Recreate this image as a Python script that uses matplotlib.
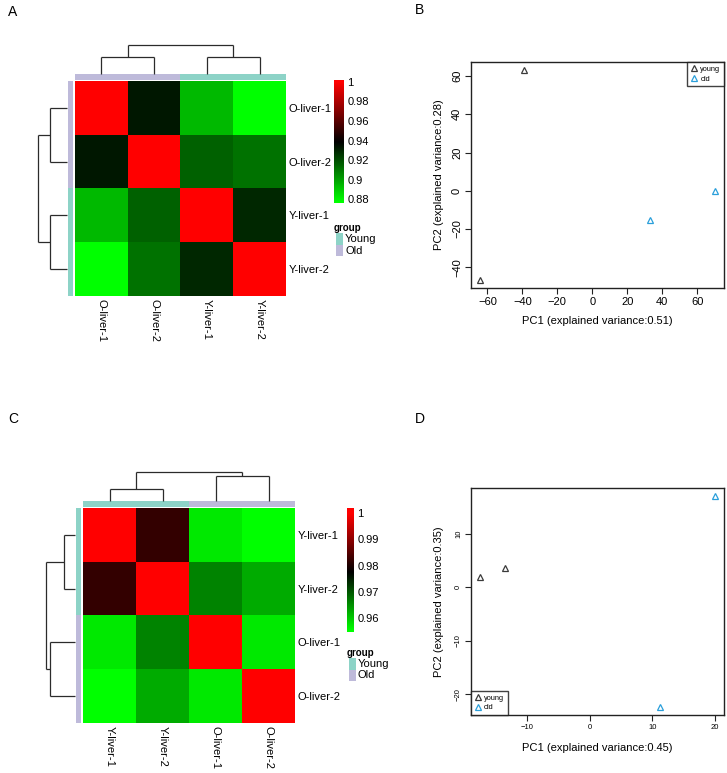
import numpy as np
import matplotlib
matplotlib.use("Agg")
import matplotlib.pyplot as plt
from matplotlib.colors import LinearSegmentedColormap, Normalize
from matplotlib.patches import Rectangle

plt.rcParams['font.family'] = ['Liberation Sans', 'DejaVu Sans']

# ---------------- data ----------------
# Panel A heatmap (correlation), order of rows/cols
labels_A = ["O-liver-1", "O-liver-2", "Y-liver-1", "Y-liver-2"]
groups_A = ["Old", "Old", "Young", "Young"]
corr_A = [[1.000, 0.933, 0.894, 0.877],
          [0.933, 1.000, 0.915, 0.911],
          [0.894, 0.915, 1.000, 0.929],
          [0.877, 0.911, 0.929, 1.000]]
cbar_range_A = [0.876, 1.002]
cbar_ticks_A = [0.88, 0.90, 0.92, 0.94, 0.96, 0.98, 1.0]
cbar_ticklabels_A = ["0.88", "0.9", "0.92", "0.94", "0.96", "0.98", "1"]
# dendrogram merges: [left, right, height]; ids >= 4 refer to earlier merges
dendro_A = [[0, 1, 0.56], [2, 3, 0.58], [4, 5, 1.0]]

# Panel C heatmap
labels_C = ["Y-liver-1", "Y-liver-2", "O-liver-1", "O-liver-2"]
groups_C = ["Young", "Young", "Old", "Old"]
corr_C = [[1.000, 0.982, 0.957, 0.955],
          [0.982, 1.000, 0.966, 0.9625],
          [0.957, 0.966, 1.000, 0.957],
          [0.955, 0.9625, 0.957, 1.000]]
cbar_range_C = [0.9546, 1.002]
cbar_ticks_C = [0.96, 0.97, 0.98, 0.99, 1.0]
cbar_ticklabels_C = ["0.96", "0.97", "0.98", "0.99", "1"]
dendro_C = [[0, 1, 0.38], [2, 3, 0.86], [4, 5, 1.0]]

group_colors = {"Young": "#8DD3C7", "Old": "#BEBADA"}
legend_groups = ["Young", "Old"]

# Panel B PCA
pcaB_young_x = [-39, -64]
pcaB_young_y = [63, -46.5]
pcaB_old_x = [33, 70]
pcaB_old_y = [-15.5, 0]
pcaB_xticks = [-60, -40, -20, 0, 20, 40, 60]
pcaB_yticks = [-40, -20, 0, 20, 40, 60]
pcaB_xlabel = "PC1 (explained variance:0.51)"
pcaB_ylabel = "PC2 (explained variance:0.28)"

# Panel D PCA
pcaD_young_x = [-17.5, -13.5]
pcaD_young_y = [2.0, 3.7]
pcaD_old_x = [11.3, 20.0]
pcaD_old_y = [-22.3, 17.0]
pcaD_xticks = [-10, 0, 10, 20]
pcaD_yticks = [-20, -10, 0, 10]
pcaD_xlabel = "PC1 (explained variance:0.45)"
pcaD_ylabel = "PC2 (explained variance:0.35)"

young_color = "#3a3a3a"
old_color = "#2A9FDA"

# ---------------- figure ----------------
W, H = 727, 773
fig = plt.figure(figsize=(W / 100, H / 100), dpi=100)

def rect(x0, y0, x1, y1):
    return [x0 / W, 1 - y1 / H, (x1 - x0) / W, (y1 - y0) / H]

cmap = LinearSegmentedColormap.from_list("gbr", ["#00FF00", "#000000", "#FF0000"], N=256)


def dendro_segments(merges, n):
    pos = {i: i + 0.5 for i in range(n)}
    hgt = {i: 0.0 for i in range(n)}
    segs = []
    for k, (a, b, h) in enumerate(merges):
        nid = n + k
        segs.append(([pos[a], pos[a]], [hgt[a], h]))
        segs.append(([pos[b], pos[b]], [hgt[b], h]))
        segs.append(([pos[a], pos[b]], [h, h]))
        pos[nid] = (pos[a] + pos[b]) / 2
        hgt[nid] = h
    return segs


def heatmap_panel(box, corr, labels, groups, cb_range, merges, cb_box, ticks, ticklabels, leg_y):
    hx0, hy0, hx1, hy1 = box
    n = len(labels)
    arr = np.array(corr)
    norm = Normalize(vmin=arr.min(), vmax=arr.max())
    ax = fig.add_axes(rect(hx0, hy0, hx1, hy1))
    ax.imshow(arr, cmap=cmap, norm=norm, aspect='auto',
              interpolation='nearest', extent=[0, n, n, 0])
    ax.set_xlim(0, n)
    ax.set_ylim(n, 0)
    for s in ax.spines.values():
        s.set_visible(False)
    ax.set_xticks(np.arange(n) + 0.5)
    ax.set_xticklabels(labels, rotation=-90, fontsize=8, va='top', ha='center')
    ax.set_yticks(np.arange(n) + 0.5)
    ax.set_yticklabels(labels, fontsize=8)
    ax.yaxis.tick_right()
    ax.tick_params(length=0, pad=2)
    # annotation bars
    axt = fig.add_axes(rect(hx0, hy0 - 7, hx1, hy0 - 1))
    axt.imshow([[matplotlib.colors.to_rgb(group_colors[g]) for g in groups]],
               aspect='auto', extent=[0, n, 1, 0])
    axt.axis('off')
    axl = fig.add_axes(rect(hx0 - 7, hy0, hx0 - 2, hy1))
    axl.imshow([[matplotlib.colors.to_rgb(group_colors[g])] for g in groups],
               aspect='auto', extent=[0, 1, n, 0])
    axl.axis('off')
    # dendrograms
    segs = dendro_segments(merges, n)
    root = max(m[2] for m in merges)
    axd = fig.add_axes(rect(hx0, hy0 - 36.5, hx1, hy0 - 7.5))
    for xs, ys in segs:
        axd.plot(xs, ys, color='#2b2b2b', lw=0.9, solid_capstyle='butt', clip_on=False)
    axd.set_xlim(0, n)
    axd.set_ylim(0, root)
    axd.axis('off')
    axd2 = fig.add_axes(rect(hx0 - 37.5, hy0, hx0 - 8, hy1))
    for xs, ys in segs:
        axd2.plot(ys, xs, color='#2b2b2b', lw=0.9, solid_capstyle='butt', clip_on=False)
    axd2.set_ylim(n, 0)
    axd2.set_xlim(root, 0)
    axd2.axis('off')
    # colorbar
    cx0, cy0, cx1, cy1 = cb_box
    axc = fig.add_axes(rect(cx0, cy0, cx1, cy1))
    grad = np.linspace(cb_range[0], cb_range[1], 256).reshape(-1, 1)
    axc.imshow(grad, cmap=cmap, norm=norm, aspect='auto', origin='lower',
               extent=[0, 1, cb_range[0], cb_range[1]])
    axc.set_xlim(0, 1)
    axc.set_ylim(cb_range[0], cb_range[1])
    axc.set_xticks([])
    axc.yaxis.tick_right()
    axc.set_yticks(ticks)
    axc.set_yticklabels(ticklabels, fontsize=8)
    axc.tick_params(length=0, pad=2.5)
    for s in axc.spines.values():
        s.set_visible(False)
    # legend
    fig.text(cx0 / W, 1 - leg_y / H, "group", fontsize=7, fontweight='bold',
             ha='left', va='center')
    for i, g in enumerate(legend_groups):
        y0 = leg_y + 5 + 11.5 * i
        fig.add_artist(Rectangle((cx0 / W + 2 / W, 1 - (y0 + 11.5) / H), 7 / W, 11.5 / H,
                                 transform=fig.transFigure, facecolor=group_colors[g],
                                 edgecolor='none'))
        fig.text((cx0 + 11) / W, 1 - (y0 + 6) / H, g, fontsize=8, ha='left', va='center')


heatmap_panel((75, 81, 286, 296), corr_A, labels_A, groups_A, cbar_range_A, dendro_A,
              (334, 80, 344, 203), cbar_ticks_A, cbar_ticklabels_A, 228)
heatmap_panel((83, 508, 295, 723), corr_C, labels_C, groups_C, cbar_range_C, dendro_C,
              (347, 508, 354, 632), cbar_ticks_C, cbar_ticklabels_C, 653)


def pca_panel(box, yx, yy, ox, oy, xticks, yticks, xlabel, ylabel, tick_fs, leg_loc):
    x0, y0, x1, y1 = box
    ax = fig.add_axes(rect(x0, y0, x1, y1))
    hpx = y1 - y0
    wpx = x1 - x0
    ax.plot(yx, yy, linestyle='none', marker='^', markersize=4.8, markerfacecolor='none',
            markeredgecolor=young_color, markeredgewidth=0.9, label='young')
    ax.plot(ox, oy, linestyle='none', marker='^', markersize=4.8, markerfacecolor='none',
            markeredgecolor=old_color, markeredgewidth=0.9, label='old')
    allx = yx + ox
    ally = yy + oy
    dx = (max(allx) - min(allx)) * 0.04
    dy = (max(ally) - min(ally)) * 0.04
    ax.set_xlim(min(allx) - dx, max(allx) + dx)
    ax.set_ylim(min(ally) - dy, max(ally) + dy)
    ax.set_xticks(xticks)
    ax.set_yticks(yticks)
    ax.set_xticklabels([str(t).replace('-', '\u2212') for t in xticks], fontsize=tick_fs)
    ax.set_yticklabels([str(t).replace('-', '\u2212') for t in yticks], fontsize=tick_fs,
                       rotation=90, va='center')
    ax.tick_params(direction='out', length=4.5, width=0.8, color='#222222', pad=2)
    for s in ax.spines.values():
        s.set_linewidth(1.0)
        s.set_color('#222222')
    ax.set_xlabel(xlabel, fontsize=8, va='center')
    ax.set_ylabel(ylabel, fontsize=8, va='center')
    ax.xaxis.set_label_coords(0.5, -33 / hpx)
    ax.yaxis.set_label_coords(-32 / wpx, 0.5)
    leg = ax.legend(loc=leg_loc, fontsize=5.3, frameon=True, fancybox=False,
                    borderaxespad=0, handlelength=0.8, handletextpad=0.5,
                    borderpad=0.5, labelspacing=0.35, markerscale=0.8)
    leg.get_frame().set_edgecolor('#111111')
    leg.get_frame().set_linewidth(1.0)
    return ax


pca_panel((471, 62, 724, 288), pcaB_young_x, pcaB_young_y, pcaB_old_x, pcaB_old_y,
          pcaB_xticks, pcaB_yticks, pcaB_xlabel, pcaB_ylabel, 8, 'upper right')
pca_panel((471, 488, 724, 715), pcaD_young_x, pcaD_young_y, pcaD_old_x, pcaD_old_y,
          pcaD_xticks, pcaD_yticks, pcaD_xlabel, pcaD_ylabel, 5.5, 'lower left')

for lab, x, y in [("A", 8, 12), ("B", 415, 10), ("C", 8, 419), ("D", 415, 419)]:
    fig.text(x / W, 1 - y / H, lab, fontsize=10, ha='left', va='center')

fig.savefig("out.png", dpi=100)
